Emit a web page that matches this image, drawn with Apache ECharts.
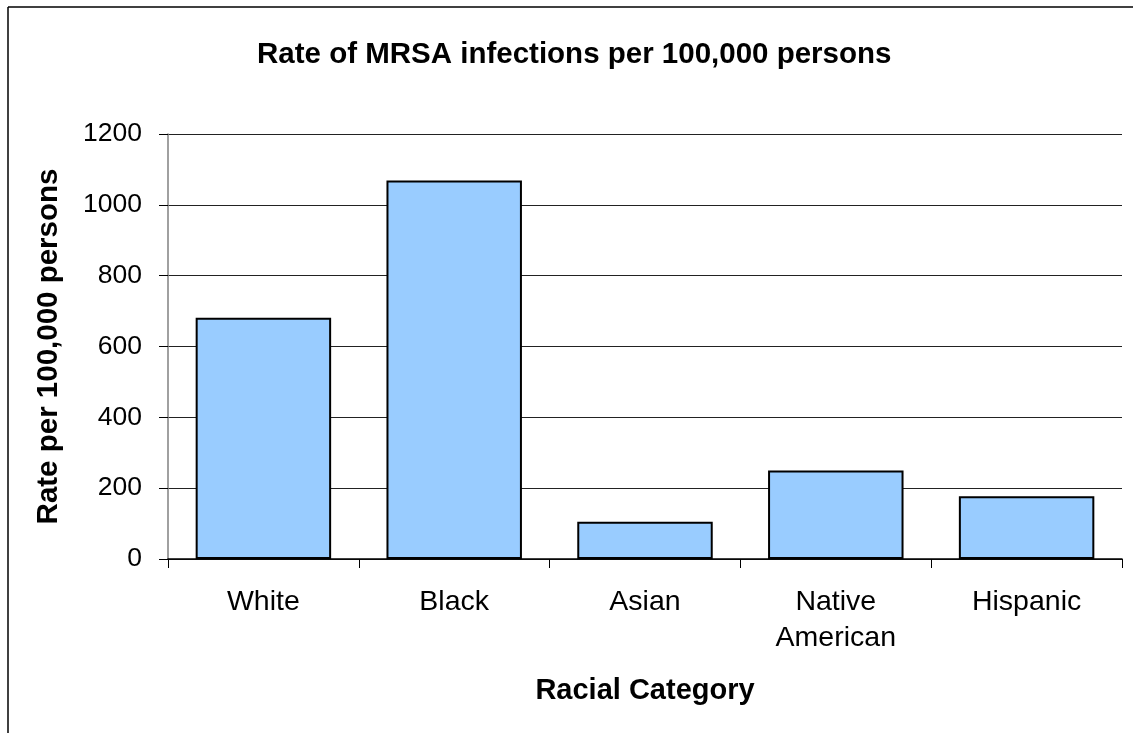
<!DOCTYPE html>
<html>
<head>
<meta charset="utf-8">
<script src="https://cdn.jsdelivr.net/npm/echarts@6/dist/echarts.min.js"></script>
<style>
  html, body { margin: 0; padding: 0; background: #fff; }
  #chart { width: 1133px; height: 733px; }
</style>
</head>
<body>
<div id="chart"></div>
<script>
// MRSA infection rate by racial category (per 100,000 persons)
const categories = ['White', 'Black', 'Asian', 'Native\nAmerican', 'Hispanic'];
const rates = [681, 1069, 105, 250, 177];
const yTicks = { min: 0, max: 1200, interval: 200 };

const FONT = '"Liberation Sans", Arial, sans-serif';

const chart = echarts.init(document.getElementById('chart'), null, { renderer: 'canvas' });

chart.setOption({
  backgroundColor: '#ffffff',
  animation: false,
  title: {
    text: 'Rate of MRSA infections per 100,000 persons',
    left: 257,
    top: 40,
    padding: 0,
    textStyle: { fontFamily: FONT, fontSize: 29.5, fontWeight: 'bold', color: '#000' }
  },
  graphic: [
    // chart frame (top and left edges visible)
    { type: 'line', shape: { x1: 8, y1: 7, x2: 1133, y2: 7 }, style: { stroke: '#000', lineWidth: 1.5 } },
    { type: 'line', shape: { x1: 8, y1: 7, x2: 8, y2: 733 }, style: { stroke: '#000', lineWidth: 1.5 } }
  ],
  grid: { left: 168, right: 11, top: 134, bottom: 174, containLabel: false },
  xAxis: {
    type: 'category',
    data: categories,
    name: 'Racial Category',
    nameLocation: 'middle',
    nameGap: 117,
    nameTextStyle: { fontFamily: FONT, fontSize: 29, fontWeight: 'bold', color: '#000' },
    axisLine: { lineStyle: { color: '#000', width: 1.5 } },
    axisTick: { show: true, length: 9, alignWithLabel: false, lineStyle: { color: '#000', width: 1 } },
    axisLabel: { fontFamily: FONT, fontSize: 28.5, color: '#000', margin: 25, lineHeight: 36, interval: 0 },
    splitLine: { show: false }
  },
  yAxis: {
    type: 'value',
    min: yTicks.min,
    max: yTicks.max,
    interval: yTicks.interval,
    name: 'Rate per 100,000 persons',
    nameLocation: 'middle',
    nameGap: 104,
    nameTextStyle: { fontFamily: FONT, fontSize: 29.5, fontWeight: 'bold', color: '#000' },
    axisLine: { show: true, lineStyle: { color: '#808080', width: 1.5 } },
    axisTick: { show: true, length: 9, lineStyle: { color: '#000', width: 1 } },
    axisLabel: { fontFamily: FONT, fontSize: 26.5, color: '#000', margin: 26, formatter: v => String(v) },
    splitLine: { show: true, lineStyle: { color: '#222', width: 1 } }
  },
  series: [{
    type: 'bar',
    data: rates,
    barCategoryGap: '29%',
    itemStyle: { color: '#99CCFF', borderColor: '#000', borderWidth: 2 }
  }]
});
</script>
</body>
</html>
